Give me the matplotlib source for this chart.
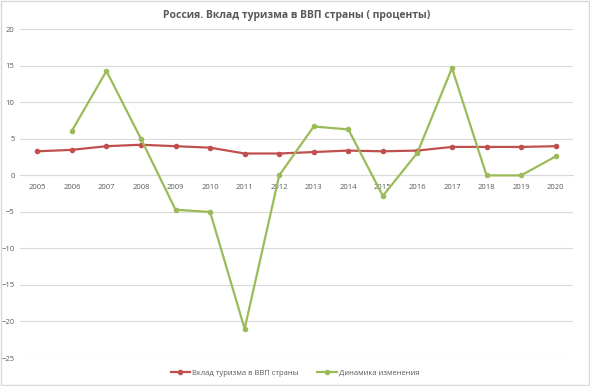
import numpy as np
import matplotlib.pyplot as plt

# =====================================================
# DATA
# =====================================================

years = [2005, 2006, 2007, 2008, 2009, 2010, 2011, 2012,
         2013, 2014, 2015, 2016, 2017, 2018, 2019, 2020]

share_gdp = [3.3, 3.5, 4.0, 4.2, 4.0, 3.8, 3.0, 3.0,
             3.2, 3.4, 3.3, 3.4, 3.9, 3.9, 3.9, 4.0]

change = [np.nan, 6.1, 14.3, 5.0, -4.7, -5.0, -21.0, 0.0,
          6.7, 6.3, -2.8, 3.1, 14.7, 0.0, 0.0, 2.6]

y_ticks = [-25, -20, -15, -10, -5, 0, 5, 10, 15, 20]

# =====================================================
# PLOT
# =====================================================

plt.rcParams["font.family"] = ["Open Sans", "DejaVu Sans"]

fig = plt.figure(figsize=(5.9, 3.86), dpi=100)
ax = fig.add_axes([0.034, 0.0725, 0.937, 0.8515])

x = np.arange(len(years))

ax.plot(x, share_gdp, color="#C0504D", lw=1.6, marker="o", ms=3,
        label="Вклад туризма в ВВП страны", zorder=3)
ax.plot(x, change, color="#9BBB59", lw=1.6, marker="o", ms=3,
        label="Динамика изменения", zorder=3)

ax.set_xlim(-0.5, len(years) - 0.5)
ax.set_ylim(-25, 20)
ax.set_yticks(y_ticks)
ax.set_xticks(x)
ax.set_xticklabels([str(y) for y in years])

ax.grid(axis="y", color="#D9D9D9", lw=0.8)
ax.set_axisbelow(True)

for s in ["top", "right", "left"]:
    ax.spines[s].set_visible(False)
ax.spines["bottom"].set_position(("data", 0))
ax.spines["bottom"].set_color("#D9D9D9")

ax.tick_params(axis="both", length=0, labelsize=5.5, labelcolor="#595959")
ax.tick_params(axis="x", pad=6)
ax.tick_params(axis="y", pad=4)

ax.set_title("Россия. Вклад туризма в ВВП страны ( проценты)",
             fontsize=7.5, fontweight="bold", color="#595959", pad=8)

fig.legend(loc="center", bbox_to_anchor=(0.5, 0.034), ncol=2,
           frameon=False, fontsize=5.5, labelcolor="#595959",
           handlelength=2.5, columnspacing=2.5, handletextpad=0.3)

# chart border
fig.patches.append(plt.Rectangle((0.002, 0.002), 0.996, 0.996,
                                 transform=fig.transFigure, fill=False,
                                 edgecolor="#D9D9D9", lw=1))

plt.savefig("out.png", dpi=100)
